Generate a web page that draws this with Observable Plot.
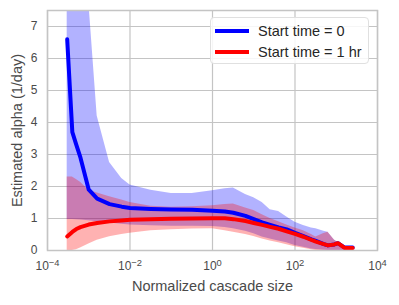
<!DOCTYPE html>
<html>
<head>
<meta charset="utf-8">
<script src="https://cdn.jsdelivr.net/npm/d3@7"></script>
<script src="https://cdn.jsdelivr.net/npm/@observablehq/plot@0.6"></script>
<style>
  html, body { margin: 0; padding: 0; background: #fff; }
  #wrap { position: relative; width: 399px; height: 305px; font-family: "Liberation Sans", Arial, sans-serif; }
  .legend { position: absolute; left: 210px; top: 17px; width: 157px; height: 45px;
    background: rgba(255,255,255,0.85); border: 1px solid #e0e0e0; border-radius: 4px; }
  .legend .row { position: absolute; left: 0; height: 20px; width: 100%; }
  .legend .sw { position: absolute; left: 4px; top: 8px; width: 34px; height: 4px; }
  .legend .lab { position: absolute; left: 47px; top: 1px; font-size: 14.5px; color: #262626; line-height: 18px; white-space: nowrap; }
</style>
</head>
<body>
<div id="wrap"></div>
<script>
// Normalized cascade size (x positions of the estimates)
const cascadeSize = [3.0e-4, 4.0e-4, 5.0e-4, 6.3e-4, 1e-3, 1.6e-3, 3.2e-3, 6.3e-3, 0.01, 0.032, 0.1, 0.32, 1, 2, 3.2, 6.3, 10, 16, 25, 40, 63, 100, 160, 250, 320, 500, 630, 900, 1100, 1600, 2500];

// Start time = 0
const alpha0    = [6.6, 3.7, 3.3, 2.9, 1.9, 1.62, 1.45, 1.37, 1.33, 1.3, 1.28, 1.27, 1.24, 1.22, 1.18, 1.08, 0.98, 0.88, 0.8, 0.72, 0.66, 0.55, 0.45, 0.35, 0.3, 0.2, 0.16, 0.19, 0.23, 0.09, 0.09];
const alpha0Lo  = [0.97, 0.97, 0.96, 0.95, 0.93, 0.9, 0.86, 0.82, 0.8, 0.77, 0.76, 0.76, 0.75, 0.72, 0.68, 0.6, 0.52, 0.42, 0.36, 0.3, 0.24, 0.16, 0.1, 0.05, 0.03, 0.01, 0, 0, 0, 0, 0];
const alpha0Hi  = [9, 9, 9, 9, 7.8, 4.2, 2.75, 2.25, 2.05, 1.88, 1.78, 1.78, 1.87, 1.93, 1.95, 1.75, 1.65, 1.5, 1.27, 1.22, 1.05, 0.88, 0.78, 0.7, 0.68, 0.6, 0.57, 0.33, 0.25, 0.1, 0.1];

// Start time = 1 hr
const alpha1    = [0.44, 0.58, 0.67, 0.73, 0.81, 0.86, 0.91, 0.94, 0.96, 0.98, 0.99, 1.0, 1.01, 1.01, 0.98, 0.92, 0.86, 0.8, 0.74, 0.68, 0.6, 0.52, 0.43, 0.33, 0.28, 0.2, 0.16, 0.19, 0.23, 0.08, 0.08];
const alpha1Lo  = [0, 0, 0.02, 0.08, 0.2, 0.32, 0.43, 0.5, 0.54, 0.62, 0.65, 0.67, 0.68, 0.62, 0.57, 0.5, 0.44, 0.36, 0.3, 0.24, 0.18, 0.12, 0.07, 0.02, 0, 0, 0, 0, 0, 0, 0];
const alpha1Hi  = [2.3, 2.3, 2.22, 2.13, 1.88, 1.8, 1.68, 1.58, 1.5, 1.38, 1.35, 1.37, 1.4, 1.44, 1.45, 1.33, 1.25, 1.12, 1.0, 0.9, 0.8, 0.7, 0.62, 0.5, 0.42, 0.53, 0.57, 0.33, 0.25, 0.1, 0.1];

const xTicks = [1e-4, 1e-2, 1, 1e2, 1e4];
const yTicks = [0, 1, 2, 3, 4, 5, 6, 7];
const seriesLabels = ["Start time = 0", "Start time = 1 hr"];
const seriesColors = ["blue", "red"];

const rows = cascadeSize.map((x, i) => ({
  x, a0: alpha0[i], a0lo: alpha0Lo[i], a0hi: alpha0Hi[i],
  a1: alpha1[i], a1lo: alpha1Lo[i], a1hi: alpha1Hi[i]
}));

const gridColor = "#c4c4c4";

const chart = Plot.plot({
  width: 399,
  height: 305,
  marginLeft: 47,
  marginRight: 22,
  marginTop: 10,
  marginBottom: 55,
  style: { fontFamily: "'Liberation Sans', Arial, sans-serif", fontSize: "12px", color: "#4a4a4a", background: "#fff" },
  x: { type: "log", domain: [1e-4, 1e4] },
  y: { domain: [0, 7.5] },
  marks: [
    Plot.gridX(xTicks, { stroke: gridColor, strokeOpacity: 1, strokeWidth: 1.2 }),
    Plot.gridY(yTicks, { stroke: gridColor, strokeOpacity: 1, strokeWidth: 1.2 }),
    Plot.areaY(rows, { x: "x", y1: "a0lo", y2: "a0hi", fill: seriesColors[0], fillOpacity: 0.3, clip: true }),
    Plot.areaY(rows, { x: "x", y1: "a1lo", y2: "a1hi", fill: seriesColors[1], fillOpacity: 0.3, clip: true }),
    Plot.lineY(rows, { x: "x", y: "a0", stroke: seriesColors[0], strokeWidth: 4, clip: true }),
    Plot.lineY(rows, { x: "x", y: "a1", stroke: seriesColors[1], strokeWidth: 4, clip: true }),
    Plot.frame({ stroke: gridColor, strokeWidth: 1.5 }),
    Plot.axisX(xTicks, {
      tickSize: 0, tickPadding: 11, fontSize: 12,
      tickFormat: d => String(Math.round(Math.log10(d))),
      label: "Normalized cascade size", labelAnchor: "center", labelArrow: "none", labelOffset: 40
    }),
    Plot.axisY(yTicks, {
      tickSize: 0, tickPadding: 10, fontSize: 12,
      label: "Estimated alpha (1/day)", labelAnchor: "center", labelArrow: "none", labelOffset: 36
    })
  ]
});

// superscript exponents on the log axis tick labels
chart.querySelectorAll('g[aria-label="x-axis tick label"] text').forEach(t => {
  const e = t.textContent.replace("-", "\u2212").replace("\u2212", "\u2212");
  t.textContent = "10";
  const ts = document.createElementNS("http://www.w3.org/2000/svg", "tspan");
  ts.setAttribute("dy", "-0.45em");
  ts.setAttribute("font-size", "0.78em");
  ts.textContent = e;
  t.appendChild(ts);
});
// larger axis titles
chart.querySelectorAll('g[aria-label="x-axis label"] text, g[aria-label="y-axis label"] text').forEach(t => {
  t.setAttribute("font-size", "14.5px");
});

const wrap = document.getElementById("wrap");
wrap.appendChild(chart);

const leg = document.createElement("div");
leg.className = "legend";
seriesLabels.forEach((s, i) => {
  const r = document.createElement("div");
  r.className = "row";
  r.style.top = (3 + i * 21) + "px";
  const sw = document.createElement("div");
  sw.className = "sw";
  sw.style.background = seriesColors[i];
  const lab = document.createElement("div");
  lab.className = "lab";
  lab.textContent = s;
  r.appendChild(sw); r.appendChild(lab);
  leg.appendChild(r);
});
wrap.appendChild(leg);
</script>
</body>
</html>
